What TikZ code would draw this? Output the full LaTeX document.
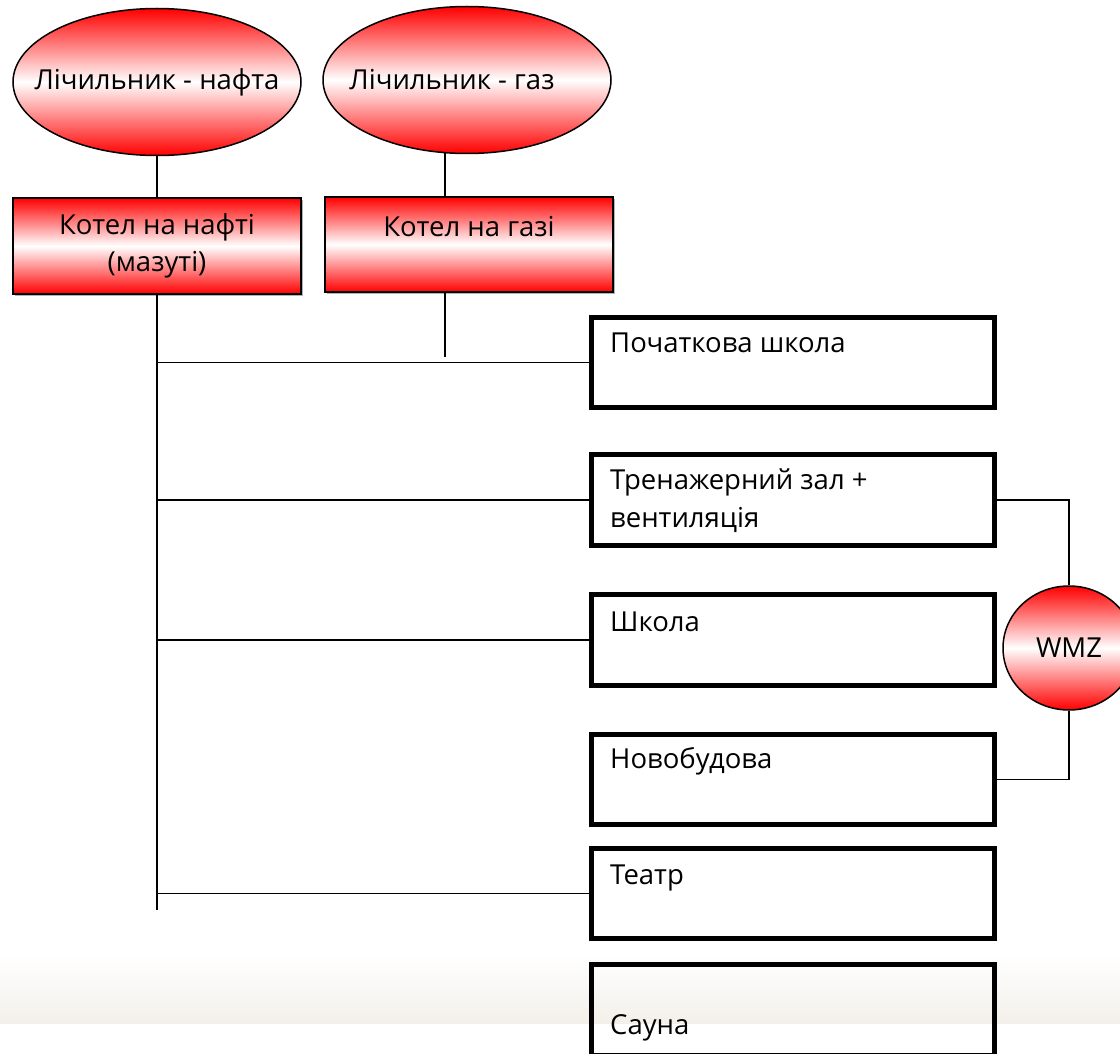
\documentclass[tikz,border=0pt]{standalone}
\usepackage{fontspec}
\setmainfont{Open Sans}
\usetikzlibrary{shapes.geometric,shadows}
\definecolor{bandc}{RGB}{243,240,234}
\begin{document}
\begin{tikzpicture}[x=1pt,y=-1pt,
  every node/.style={font=\fontsize{27.5}{37}\selectfont, text=black},
  redfill/.style={top color=red, bottom color=red, middle color=white},
  meter/.style={ellipse, draw=black, line width=1.5pt, redfill, inner sep=0pt,
    minimum width=288pt, minimum height=147pt},
  boiler/.style={rectangle, draw=black, line width=1.5pt, redfill, inner sep=0pt,
    minimum width=288pt, minimum height=96pt, align=center,
    drop shadow={shadow xshift=2pt, shadow yshift=-2pt, fill=black!30, opacity=1}},
  cons/.style={rectangle, draw=black, line width=5pt, inner sep=0pt,
    minimum width=403pt, minimum height=90.5pt},
  lbl/.style={anchor=base west, inner sep=0pt, align=left},
  conn/.style={draw=black, line width=1.5pt}
]
\clip (0,0) rectangle (1120,1054);
\fill[white] (0,0) rectangle (1120,1054);
\shade[top color=white, bottom color=bandc] (0,955) rectangle (1120,1023);

% meters
\node[meter] (E1) at (157,82) {\makebox[0pt]{Лічильник - нафта}};
\node[meter] (E2) at (467,80) {\makebox[0pt]{Лічильник - газ\hspace*{30pt}}};

% boilers
\node[boiler] (K1) at (157,246) {Котел на нафті\\(мазуті)};
\node[boiler, minimum height=95pt] (K2) at (469,244.5) {Котел на газі\\\mbox{}};

% consumers
\node[cons] (B1) at (793,362.5) {};
\node[cons] (B2) at (793,500) {};
\node[cons] (B3) at (793,640) {};
\node[cons] (B4) at (793,779.5) {};
\node[cons] (B5) at (793,893.5) {};
\node[cons] (B6) at (793,1010) {};

\node[lbl] (T1) at (610,352) {Початкова школа};
\node[lbl] (T2) at (610,489) {Тренажерний зал +};
\node[lbl] (T2b) at (610,527) {вентиляція};
\node[lbl] (T3) at (610,631) {Школа};
\node[lbl] (T4) at (610,768) {Новобудова};
\node[lbl] (T5) at (610,884) {Театр};
\node[lbl] (T6) at (610,1034) {Сауна};

% WMZ
\node[meter, minimum width=132pt, minimum height=124pt] (W) at (1069,648) {\makebox[0pt]{WMZ}};

% connectors
\coordinate (g1) at (445,152);
\coordinate (g2) at (445,357);
\coordinate (busend) at (157,910);
\draw[conn] (E1.south) -- (K1.north);
\draw[conn] (g1) -- (g1 |- K2.north);
\draw[conn] (g2 |- K2.south) -- (g2);
\draw[conn] (K1.south) -- (busend);
\foreach \b in {B1,B2,B3,B5}{
  \draw[conn] (\b.west -| busend) -- (\b.west);
}
\draw[conn] (B2.east) -| (W.north);
\draw[conn] (W.south) |- (B4.east);
\end{tikzpicture}
\end{document}
